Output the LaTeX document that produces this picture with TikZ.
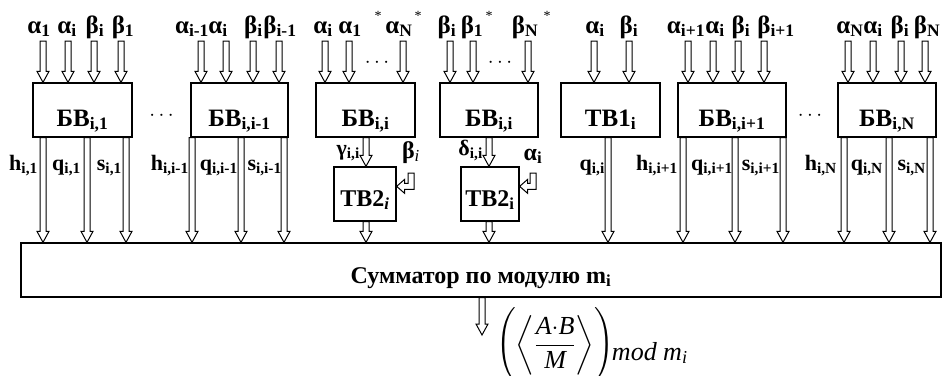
\documentclass[tikz,border=0pt]{standalone}
\usepackage{exscale}
\usepackage{fontspec}
\setmainfont{Liberation Serif}
\usetikzlibrary{calc}

% hollow downward double-line arrow at abscissa #1 (in pt), from #2 down to #3
\newcommand\dnarrow[3]{%
  \draw[harr] let \p1=(#2), \p2=(#3) in
    ({#1*1pt-3pt},\y1) -- ({#1*1pt-3pt},\y2+11pt) -- ({#1*1pt-6pt},\y2+11pt) --
    ({#1*1pt},\y2) -- ({#1*1pt+6pt},\y2+11pt) -- ({#1*1pt+3pt},\y2+11pt) --
    ({#1*1pt+3pt},\y1) -- cycle;}

% hollow elbow arrow: vertical shaft from #2 downwards, then left to tip #1
\newcommand\elbow[2]{%
  \draw[harr] let \p1=#1, \p2=#2 in
    (\x2-3pt,\y2) -- (\x2-3pt,\y1+3pt) -- (\x1+8pt,\y1+3pt) -- (\x1+8pt,\y1+7pt) --
    (\x1,\y1) -- (\x1+8pt,\y1-7pt) -- (\x1+8pt,\y1-3pt) -- (\x2+3pt,\y1-3pt) --
    (\x2+3pt,\y2) -- cycle;}

% invisible struts that fix the height of the big delimiters
\newcommand\tallstrut[1]{\vrule height #1 depth #1 width 0pt}

\begin{document}
\begin{tikzpicture}[x=1pt,y=-1pt,
  every node/.style={font=\bfseries},
  blk/.style={draw, line width=1.3pt, inner sep=0pt, minimum height=54pt,
              font=\fontsize{25}{29}\selectfont\bfseries},
  harr/.style={draw, fill=white, line width=1pt, line join=miter},
  inl/.style={anchor=base, inner sep=0pt, font=\fontsize{25}{29}\selectfont\bfseries},
  outl/.style={anchor=base east, inner sep=0pt, font=\fontsize{22}{26}\selectfont\bfseries},
  star/.style={inner sep=0pt, font=\fontsize{14}{16}\selectfont},
  dotsn/.style={inner sep=0pt, font=\fontsize{20}{24}\selectfont}]
\useasboundingbox (0,0) rectangle (942,375);

% ---- computing blocks ----
\node[blk, minimum width=99pt,  text height=43pt, text depth=11pt] (b1) at (82.5,110) {БВ\textsubscript{i,1}};
\node[blk, minimum width=97pt,  text height=43pt, text depth=11pt] (b2) at (239.5,110) {БВ\textsubscript{i,i-1}};
\node[blk, minimum width=99pt,  text height=43pt, text depth=11pt] (b3) at (365.5,110) {БВ\textsubscript{i,i}};
\node[blk, minimum width=98pt,  text height=43pt, text depth=11pt] (b4) at (489,110) {БВ\textsubscript{i,i}};
\node[blk, minimum width=99pt,  text height=43pt, text depth=11pt] (tb1) at (610.5,110) {ТВ1\textsubscript{i}};
\node[blk, minimum width=108pt, text height=43pt, text depth=11pt] (b5) at (732,110) {БВ\textsubscript{i,i+1}};
\node[blk, minimum width=98pt,  text height=43pt, text depth=11pt] (b6) at (887,110) {БВ\textsubscript{i,N}};

\node[blk, minimum width=62pt, text height=39pt, text depth=15pt, font=\fontsize{24}{28}\selectfont\bfseries]
  (t1) at (365,194) {ТВ2\textsubscript{\itshape i}};
\node[blk, minimum width=58pt, text height=39pt, text depth=15pt, font=\fontsize{24}{28}\selectfont\bfseries]
  (t2) at (490,194) {ТВ2\textsubscript{i}};

% ---- modular adder ----
\node[draw, line width=1.3pt, inner sep=0pt, minimum width=920pt, minimum height=54pt] (sum) at (481,270) {};
\node[anchor=base, inner sep=0pt, font=\fontsize{24}{28}\selectfont\bfseries] (sumlbl) at (481,283)
  {Сумматор по модулю m\textsubscript{i}};

% ---- input labels ----
\coordinate (intop) at (0,41);
\node[inl] (la1) at (39,33) {α\textsubscript{1}};
\node[inl] (la2) at (67,33) {α\textsubscript{i}};
\node[inl] (la3) at (95,33) {β\textsubscript{i}};
\node[inl] (la4) at (123,33) {β\textsubscript{1}};

\node[inl] (lb1) at (192,33) {α\textsubscript{i-1}};
\node[inl] (lb2) at (218,33) {α\textsubscript{i}};
\node[inl] (lb3) at (253.5,33) {β\textsubscript{i}};
\node[inl] (lb4) at (280,33) {β\textsubscript{i-1}};

\node[inl] (lc1) at (323,33) {α\textsubscript{i}};
\node[inl] (lc2) at (350,33) {α\textsubscript{1}};
\node[star] (sc2) at (378,16) {*};
\node[inl] (lc3) at (399,33) {α\textsubscript{N}};
\node[star] (sc3) at (418,16) {*};

\node[inl] (ld1) at (447,33) {β\textsubscript{i}};
\node[inl] (ld2) at (472,33) {β\textsubscript{1}};
\node[star] (sd2) at (489,16) {*};
\node[inl] (ld3) at (525,33) {β\textsubscript{N}};
\node[star] (sd3) at (547,16) {*};

\node[inl] (le1) at (595,33) {α\textsubscript{i}};
\node[inl] (le2) at (629,33) {β\textsubscript{i}};

\node[inl] (lf1) at (686,33) {α\textsubscript{i+1}};
\node[inl] (lf2) at (715,33) {α\textsubscript{i}};
\node[inl] (lf3) at (741,33) {β\textsubscript{i}};
\node[inl] (lf4) at (776,33) {β\textsubscript{i+1}};

\node[inl] (lg1) at (850,33) {α\textsubscript{N}};
\node[inl] (lg2) at (873,33) {α\textsubscript{i}};
\node[inl] (lg3) at (900,33) {β\textsubscript{i}};
\node[inl] (lg4) at (927,33) {β\textsubscript{N}};

% ---- input arrows ----
\foreach \xx in {43,68,94,121} {\dnarrow{\xx}{intop}{b1.north}}
\foreach \xx in {201,226,253,279} {\dnarrow{\xx}{intop}{b2.north}}
\foreach \xx in {325,349,403} {\dnarrow{\xx}{intop}{b3.north}}
\foreach \xx in {450,473,528} {\dnarrow{\xx}{intop}{b4.north}}
\foreach \xx in {594,629} {\dnarrow{\xx}{intop}{tb1.north}}
\foreach \xx in {688,713,738,764} {\dnarrow{\xx}{intop}{b5.north}}
\foreach \xx in {848,873,901,925} {\dnarrow{\xx}{intop}{b6.north}}

% ---- dots ----
\node[dotsn] (d1) at (161.5,116) {$\cdots$};
\node[dotsn] (d2) at (810,116) {$\cdots$};
\node[dotsn] (d3) at (377,63) {$\cdots$};
\node[dotsn] (d4) at (500,63) {$\cdots$};

% ---- output arrows to the adder ----
\foreach \xx in {43,87,126} {\dnarrow{\xx}{b1.south}{sum.north}}
\foreach \xx in {192,241,284} {\dnarrow{\xx}{b2.south}{sum.north}}
\dnarrow{366}{b3.south}{t1.north}
\dnarrow{366}{t1.south}{sum.north}
\dnarrow{489}{b4.south}{t2.north}
\dnarrow{489}{t2.south}{sum.north}
\dnarrow{608}{tb1.south}{sum.north}
\foreach \xx in {683,735,783} {\dnarrow{\xx}{b5.south}{sum.north}}
\foreach \xx in {844,889,930} {\dnarrow{\xx}{b6.south}{sum.north}}

% ---- side inputs of the TB2 blocks ----
\elbow{($(t1.north east)+(0,20)$)}{(411,173)}
\elbow{($(t2.north east)+(0,20)$)}{(533,173)}
\node[inl, font=\fontsize{24}{28}\selectfont\bfseries] (lt1) at (411,158) {β\textsubscript{\itshape\mdseries i}};
\node[inl, font=\fontsize{24}{28}\selectfont\bfseries] (lt2) at (533,160) {α\textsubscript{i}};

% ---- output labels ----
\node[outl] (o1) at (38,170) {h\textsubscript{i,1}};
\node[outl] (o2) at (81,170) {q\textsubscript{i,1}};
\node[outl] (o3) at (122,170) {s\textsubscript{i,1}};
\node[outl] (o4) at (189,170) {h\textsubscript{i,i-1}};
\node[outl] (o5) at (238,170) {q\textsubscript{i,i-1}};
\node[outl] (o6) at (282,170) {s\textsubscript{i,i-1}};
\node[outl] (o7) at (605,170) {q\textsubscript{i,i}};
\node[outl] (o8) at (678,170) {h\textsubscript{i,i+1}};
\node[outl] (o9) at (733,170) {q\textsubscript{i,i+1}};
\node[outl] (o10) at (780,170) {s\textsubscript{i,i+1}};
\node[outl] (o11) at (837,170) {h\textsubscript{i,N}};
\node[outl] (o12) at (883,170) {q\textsubscript{i,N}};
\node[outl] (o13) at (926,170) {s\textsubscript{i,N}};
\node[outl] (g1) at (360,155) {γ\textsubscript{i,i}};
\node[outl] (g2) at (483,155) {δ\textsubscript{i,i}};

% ---- result ----
\coordinate (resend) at (0,335);
\dnarrow{482}{sum.south}{resend}
\node[anchor=west, inner sep=0pt, font=\fontsize{26}{30}\selectfont\mdseries] (res) at (496,345)
  {$\left(\tallstrut{29pt}\left\langle\tallstrut{26pt}\displaystyle\frac{\textit{A}{\cdot}\textit{B}}{\textit{M}}\right\rangle\right)$\kern-2pt\raisebox{-9pt}{\textit{mod m\textsubscript{i}}}};
\end{tikzpicture}
\end{document}
